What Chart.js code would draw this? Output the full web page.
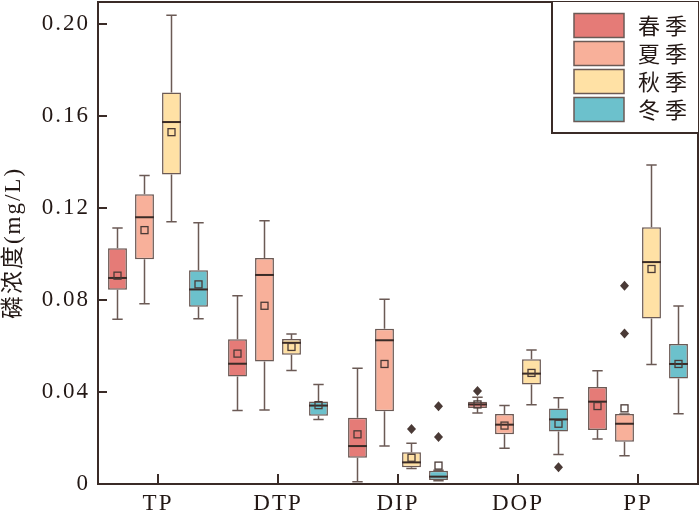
<!DOCTYPE html>
<html>
<head>
<meta charset="utf-8">
<script src="https://cdn.jsdelivr.net/npm/chart.js@4.4.1/dist/chart.umd.min.js"></script>
<style>
html,body{margin:0;padding:0;background:#fff;}
#wrap{width:700px;height:516px;position:relative;}
</style>
</head>
<body>
<div id="wrap"><canvas id="c"></canvas></div>
<script>
const categories = ['TP','DTP','DIP','DOP','PP'];
const seasons = ['春季','夏季','秋季','冬季'];
const yTickValues = [0, 0.04, 0.08, 0.12, 0.16, 0.20];

// spring
const springMin    = [0.0716, 0.0320, 0.0010, 0.0309, 0.0196];
const springQ1     = [0.0845, 0.0467, 0.0114, 0.0330, 0.0235];
const springMedian = [0.0896, 0.0523, 0.0165, 0.0346, 0.0358];
const springQ3     = [0.1025, 0.0629, 0.0288, 0.0358, 0.0422];
const springMax    = [0.1113, 0.0819, 0.0503, 0.0377, 0.0493];
const springMean   = [0.0906, 0.0567, 0.0216, 0.0346, 0.0339];
const springOutliers = [[], [], [], [0.0404], []];
// summer
const summerMin    = [0.0784, 0.0322, 0.0165, 0.0155, 0.0123];
const summerQ1     = [0.0977, 0.0533, 0.0316, 0.0216, 0.0184];
const summerMedian = [0.1160, 0.0909, 0.0625, 0.0258, 0.0262];
const summerQ3     = [0.1260, 0.0983, 0.0675, 0.0304, 0.0304];
const summerMax    = [0.1342, 0.1145, 0.0803, 0.0341, 0.0304];
const summerMean   = [0.1104, 0.0775, 0.0522, 0.0254, 0.0329];
const summerOutliers = [[], [], [], [], [0.0862, 0.0654]];
// autumn
const autumnMin    = [0.1140, 0.0494, 0.0067, 0.0345, 0.0520];
const autumnQ1     = [0.1346, 0.0562, 0.0073, 0.0433, 0.0720];
const autumnMedian = [0.1574, 0.0614, 0.0094, 0.0480, 0.0965];
const autumnQ3     = [0.1703, 0.0630, 0.0138, 0.0542, 0.1116];
const autumnMax    = [0.2038, 0.0652, 0.0177, 0.0583, 0.1387];
const autumnMean   = [0.1530, 0.0596, 0.0114, 0.0483, 0.0935];
const autumnOutliers = [[], [], [0.0239], [], []];
// winter
const winterMin    = [0.0719, 0.0281, 0.0014, 0.0128, 0.0306];
const winterQ1     = [0.0771, 0.0297, 0.0017, 0.0228, 0.0459];
const winterMedian = [0.0846, 0.0341, 0.0032, 0.0281, 0.0522];
const winterQ3     = [0.0929, 0.0359, 0.0058, 0.0328, 0.0609];
const winterMax    = [0.1136, 0.0433, 0.0060, 0.0375, 0.0774];
const winterMean   = [0.0868, 0.0343, 0.0080, 0.0262, 0.0522];
const winterOutliers = [[], [], [0.0338, 0.0204], [0.0073], []];

const seasonColors = ['#E57B77', '#F8B09A', '#FFE1A5', '#6CC1CC'];
const boxBorder = '#6b5a55';
const darkLine = '#3a2b27';
const textColor = '#231815';
const serif = "'Liberation Serif', 'Noto Sans CJK SC', serif";

const stats = [
  {min: springMin, q1: springQ1, med: springMedian, q3: springQ3, max: springMax, mean: springMean, out: springOutliers},
  {min: summerMin, q1: summerQ1, med: summerMedian, q3: summerQ3, max: summerMax, mean: summerMean, out: summerOutliers},
  {min: autumnMin, q1: autumnQ1, med: autumnMedian, q3: autumnQ3, max: autumnMax, mean: autumnMean, out: autumnOutliers},
  {min: winterMin, q1: winterQ1, med: winterMedian, q3: winterQ3, max: winterMax, mean: winterMean, out: winterOutliers}
];

const datasets = seasons.map((s, i) => ({
  label: s,
  data: stats[i].q1.map((v, j) => [v, stats[i].q3[j]]),
  backgroundColor: seasonColors[i],
  borderColor: boxBorder,
  borderWidth: 1.5,
  borderSkipped: false,
  categoryPercentage: 0.9,
  barPercentage: 0.7
}));

const spacingPlugin = {
  id: 'spacing',
  beforeLayout(chart) { chart.ctx.letterSpacing = '2px'; },
  beforeDraw(chart) { chart.ctx.letterSpacing = '2px'; }
};

const boxPlugin = {
  id: 'boxplot',
  beforeDatasetsDraw(chart) {
    const ctx = chart.ctx;
    const y = chart.scales.y;
    ctx.save();
    ctx.strokeStyle = boxBorder;
    ctx.lineWidth = 1.5;
    stats.forEach((st, i) => {
      const meta = chart.getDatasetMeta(i);
      meta.data.forEach((bar, j) => {
        const x = bar.x, w = bar.width, cap = w * 0.55;
        const yMin = y.getPixelForValue(st.min[j]);
        const yMax = y.getPixelForValue(st.max[j]);
        const yQ1 = y.getPixelForValue(st.q1[j]);
        const yQ3 = y.getPixelForValue(st.q3[j]);
        ctx.beginPath();
        ctx.moveTo(x, yQ1); ctx.lineTo(x, yMin);
        ctx.moveTo(x, yQ3); ctx.lineTo(x, yMax);
        ctx.moveTo(x - cap / 2, yMin); ctx.lineTo(x + cap / 2, yMin);
        ctx.moveTo(x - cap / 2, yMax); ctx.lineTo(x + cap / 2, yMax);
        ctx.stroke();
      });
    });
    ctx.restore();
  },
  afterDatasetsDraw(chart) {
    const ctx = chart.ctx;
    const y = chart.scales.y;
    ctx.save();
    stats.forEach((st, i) => {
      const meta = chart.getDatasetMeta(i);
      meta.data.forEach((bar, j) => {
        const x = bar.x, w = bar.width;
        const yMed = y.getPixelForValue(st.med[j]);
        ctx.strokeStyle = darkLine;
        ctx.lineWidth = 2;
        ctx.beginPath();
        ctx.moveTo(x - w / 2, yMed); ctx.lineTo(x + w / 2, yMed);
        ctx.stroke();
        const yMean = y.getPixelForValue(st.mean[j]);
        ctx.strokeStyle = '#4a3a36';
        ctx.lineWidth = 1.3;
        ctx.strokeRect(x - 3.5, yMean - 3.5, 7, 7);
        ctx.fillStyle = '#4a3a36';
        st.out[j].forEach(v => {
          const yo = y.getPixelForValue(v);
          ctx.beginPath();
          ctx.moveTo(x, yo - 5); ctx.lineTo(x + 4.5, yo);
          ctx.lineTo(x, yo + 5); ctx.lineTo(x - 4.5, yo);
          ctx.closePath();
          ctx.fill();
        });
      });
    });
    ctx.restore();
  },
  afterDraw(chart) {
    const ctx = chart.ctx;
    const a = chart.chartArea;
    const xs = chart.scales.x, ys = chart.scales.y;
    ctx.save();
    ctx.strokeStyle = darkLine;
    ctx.lineWidth = 2;
    ctx.beginPath();
    ctx.moveTo(a.left - 1, a.top); ctx.lineTo(a.right, a.top); ctx.lineTo(a.right, a.bottom + 1);
    ctx.stroke();
    ctx.beginPath();
    ys.ticks.forEach((t, k) => {
      const py = ys.getPixelForTick(k);
      ctx.moveTo(a.left, py); ctx.lineTo(a.left + 9, py);
    });
    xs.ticks.forEach((t, k) => {
      const px = xs.getPixelForTick(k);
      ctx.moveTo(px, a.bottom); ctx.lineTo(px, a.bottom - 10);
    });
    ctx.stroke();
    const lx = a.right - 146, ly = a.top, lh = 131;
    ctx.fillStyle = '#fff';
    ctx.fillRect(lx, ly, a.right - lx, lh);
    ctx.beginPath();
    ctx.moveTo(lx, ly); ctx.lineTo(lx, ly + lh); ctx.lineTo(a.right, ly + lh);
    ctx.stroke();
    ctx.font = "22px 'Noto Sans CJK SC', serif";
    ctx.letterSpacing = '5px';
    ctx.textBaseline = 'middle';
    ctx.textAlign = 'left';
    seasons.forEach((s, i) => {
      const py = ly + 11.5 + i * 28;
      ctx.fillStyle = seasonColors[i];
      ctx.fillRect(lx + 22, py, 50, 24);
      ctx.strokeStyle = boxBorder;
      ctx.lineWidth = 1.5;
      ctx.strokeRect(lx + 22, py, 50, 24);
      ctx.fillStyle = textColor;
      ctx.fillText(s, lx + 86, py + 12);
    });
    ctx.restore();
  }
};

new Chart(document.getElementById('c'), {
  type: 'bar',
  data: { labels: categories, datasets: datasets },
  options: {
    responsive: true,
    maintainAspectRatio: false,
    animation: false,
    layout: { padding: { top: 2, right: 2, left: 0, bottom: 0 } },
    plugins: { legend: { display: false }, tooltip: { enabled: false } },
    scales: {
      x: {
        type: 'category',
        offset: true,
        grid: { display: false, drawTicks: false },
        border: { display: true, color: darkLine, width: 2 },
        ticks: { color: textColor, font: { family: serif, size: 23 }, padding: 6 },
        afterFit(scale) { scale.height = 32; scale.paddingLeft = 0; scale.paddingRight = 0; }
      },
      y: {
        min: 0,
        max: 0.2096,
        grid: { display: false, drawTicks: false },
        border: { display: true, color: darkLine, width: 2 },
        afterBuildTicks(scale) { scale.ticks = yTickValues.map(v => ({ value: v })); },
        ticks: {
          color: textColor,
          font: { family: serif, size: 23 },
          padding: 8,
          callback: v => v === 0 ? '0' : v.toFixed(2)
        },
        title: {
          display: true,
          text: '磷浓度(mg/L)',
          color: textColor,
          font: { family: serif, size: 23 },
          padding: { top: 0, bottom: 0 }
        },
        afterFit(scale) { scale.width = 98; scale.paddingTop = 0; scale.paddingBottom = 0; }
      }
    }
  },
  plugins: [spacingPlugin, boxPlugin]
});
</script>
</body>
</html>
